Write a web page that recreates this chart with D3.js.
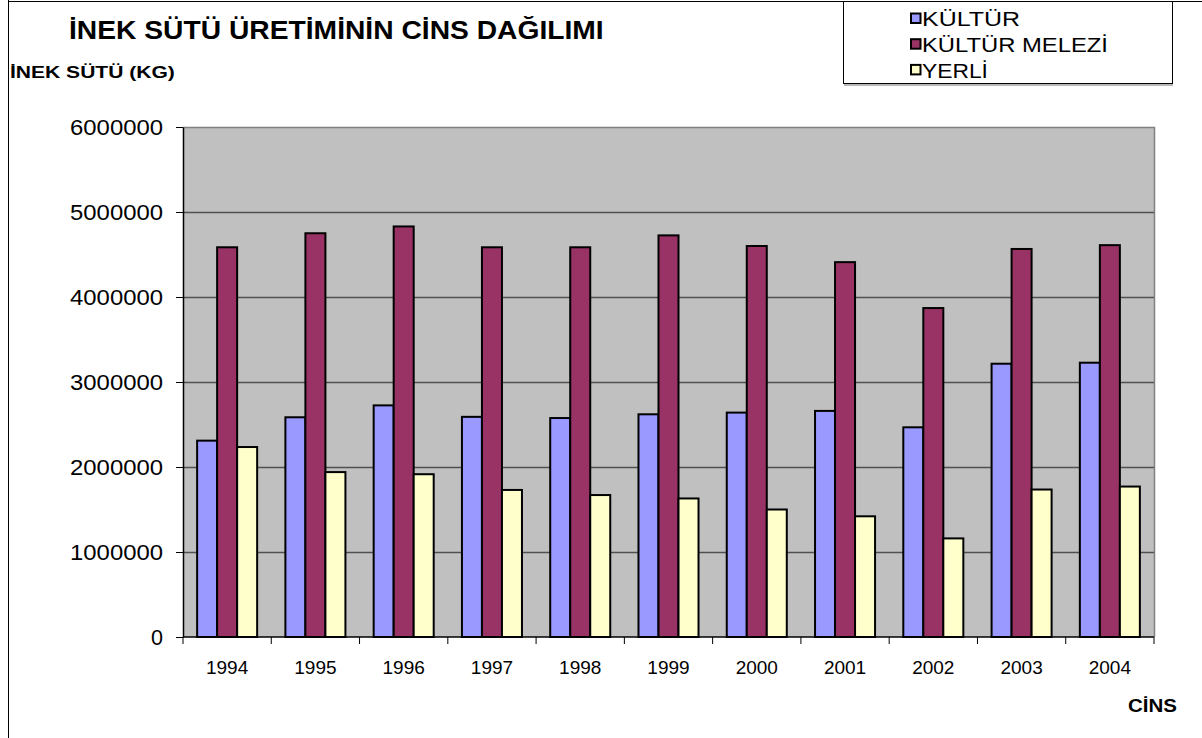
<!DOCTYPE html>
<html>
<head>
<meta charset="utf-8">
<script src="https://cdn.jsdelivr.net/npm/d3@7"></script>
<style>
  body { margin: 0; background: #fff; }
  svg { display: block; font-family: "Liberation Sans", Arial, sans-serif; }
</style>
</head>
<body>
<div id="chart"></div>
<script>
// years on the x axis
var years = ["1994", "1995", "1996", "1997", "1998", "1999", "2000", "2001", "2002", "2003", "2004"];
// milk production (kg) per breed
var kultur = [2310000, 2585000, 2725000, 2590000, 2576000, 2620000, 2640000, 2660000, 2467000, 3215000, 3227000];
var kulturMelezi = [4585000, 4750000, 4830000, 4585000, 4585000, 4725000, 4600000, 4410000, 3870000, 4565000, 4610000];
var yerli = [2235000, 1940000, 1915000, 1730000, 1670000, 1630000, 1500000, 1420000, 1160000, 1735000, 1770000];
var seriesNames = ["KÜLTÜR", "KÜLTÜR MELEZİ", "YERLİ"];
var seriesColors = ["#9999ff", "#993366", "#ffffcc"];
var yTicks = [0, 1000000, 2000000, 3000000, 4000000, 5000000, 6000000];

var seriesValues = [kultur, kulturMelezi, yerli];
var data = years.map(function(y, i) {
   return { year: y, values: seriesValues.map(function(s, k) { return { key: k, value: s[i] }; }) };
});

var W = 1202, H = 738;
var plot = { left: 183, right: 1154, top: 127, bottom: 637 };

// the picture's text is wider than plain Arial, so stretch glyphs horizontally
function stretch(sel, widthFn) {
   sel.each(function(d, i) {
      var t = d3.select(this);
      var w = this.getComputedTextLength();
      var target = typeof widthFn === "function" ? widthFn(d, i) : widthFn;
      var s = target / w;
      var x = +t.attr("x") || 0, y0 = +t.attr("y") || 0;
      t.attr("transform", "translate(" + x + "," + y0 + ") scale(" + s + ",1) translate(" + (-x) + "," + (-y0) + ")");
   });
}

var svg = d3.select("#chart").append("svg")
   .attr("width", W)
   .attr("height", H);

// outer frame lines
svg.append("line").attr("x1", 8.5).attr("x2", 8.5).attr("y1", 0).attr("y2", H)
   .attr("stroke", "#000").attr("stroke-width", 1);
svg.append("line").attr("x1", 8).attr("x2", W).attr("y1", 1.5).attr("y2", 1.5)
   .attr("stroke", "#000").attr("stroke-width", 1);

var x0 = d3.scaleBand()
   .domain(years)
   .range([plot.left, plot.right])
   .paddingInner(0.32)
   .paddingOuter(0.16);
var x1 = d3.scaleBand()
   .domain(d3.range(seriesNames.length))
   .range([0, x0.bandwidth()]);
var y = d3.scaleLinear()
   .domain([0, 6000000])
   .range([plot.bottom, plot.top]);

// plot area background
svg.append("rect")
   .attr("x", plot.left).attr("y", plot.top)
   .attr("width", plot.right - plot.left).attr("height", plot.bottom - plot.top)
   .attr("fill", "#c0c0c0");
svg.append("path")
   .attr("d", "M" + plot.left + "," + (plot.top + 0.5) + "H" + (plot.right + 0.5) + "V" + plot.bottom)
   .attr("fill", "none").attr("stroke", "#808080").attr("stroke-width", 1.5);

// gridlines
svg.append("g").selectAll("line")
   .data(yTicks.filter(function(d) { return d > 0 && d < 6000000; }))
   .enter().append("line")
   .attr("x1", plot.left).attr("x2", plot.right)
   .attr("y1", function(d) { return Math.round(y(d)) + 0.5; })
   .attr("y2", function(d) { return Math.round(y(d)) + 0.5; })
   .attr("stroke", "#505050").attr("stroke-width", 1.3);

// bars
var groups = svg.append("g").selectAll("g")
   .data(data)
   .enter().append("g")
   .attr("transform", function(d) { return "translate(" + x0(d.year) + ",0)"; });

groups.selectAll("rect")
   .data(function(d) { return d.values; })
   .enter().append("rect")
   .attr("x", function(d) { return x1(d.key); })
   .attr("width", x1.bandwidth())
   .attr("y", function(d) { return y(d.value); })
   .attr("height", function(d) { return plot.bottom - y(d.value); })
   .attr("fill", function(d) { return seriesColors[d.key]; })
   .attr("stroke", "#000")
   .attr("stroke-width", 2);

// y axis
var yAxis = svg.append("g")
   .attr("transform", "translate(" + plot.left + ",0)")
   .call(d3.axisLeft(y).tickValues(yTicks).tickFormat(d3.format("d")).tickSize(7).tickPadding(13).tickSizeOuter(0));
yAxis.select(".domain").attr("stroke", "#000").attr("stroke-width", 1.5);
yAxis.selectAll(".tick line").attr("stroke", "#000");
var yLabels = yAxis.selectAll("text")
   .attr("font-family", "Liberation Sans, Arial, sans-serif")
   .attr("font-size", 22)
   .attr("dy", "0.36em")
   .attr("fill", "#000");
stretch(yLabels, function(d) { return String(d).length * 13.5 - 1.5; });

// x axis, ticks sit between the categories
var xAxis = svg.append("g")
   .attr("transform", "translate(0," + plot.bottom + ")");
xAxis.append("line")
   .attr("x1", plot.left).attr("x2", plot.right)
   .attr("stroke", "#000").attr("stroke-width", 1.5);
var step = x0.step();
xAxis.selectAll(".xtick")
   .data(d3.range(years.length + 1))
   .enter().append("line")
   .attr("class", "xtick")
   .attr("x1", function(i) { return plot.left + i * step; })
   .attr("x2", function(i) { return plot.left + i * step; })
   .attr("y1", 0).attr("y2", 7)
   .attr("stroke", "#000");
xAxis.selectAll(".xlab")
   .data(years)
   .enter().append("text")
   .attr("class", "xlab")
   .attr("x", function(d) { return x0(d) + x0.bandwidth() / 2; })
   .attr("y", 37)
   .attr("text-anchor", "middle")
   .attr("font-size", 19)
   .text(function(d) { return d; });

// titles
stretch(svg.append("text")
   .attr("x", 69).attr("y", 39)
   .attr("font-size", 25).attr("font-weight", "bold")
   .text("İNEK SÜTÜ ÜRETİMİNİN CİNS DAĞILIMI"), 535);
stretch(svg.append("text")
   .attr("x", 10).attr("y", 78)
   .attr("font-size", 17).attr("font-weight", "bold")
   .text("İNEK SÜTÜ (KG)"), 165);
stretch(svg.append("text")
   .attr("x", 1128).attr("y", 712)
   .attr("font-size", 18).attr("font-weight", "bold")
   .text("CİNS"), 49);

// legend
var legend = svg.append("g");
legend.append("rect")
   .attr("x", 843.5).attr("y", 1.5).attr("width", 329).attr("height", 82)
   .attr("fill", "#fff").attr("stroke", "#000").attr("stroke-width", 1);
legend.append("line")
   .attr("x1", 844).attr("x2", 1173).attr("y1", 85).attr("y2", 85)
   .attr("stroke", "#a0a0a0").attr("stroke-width", 1.5);
var legendWidths = [98, 186, 66];
var items = legend.selectAll(".item")
   .data(seriesNames)
   .enter().append("g")
   .attr("class", "item")
   .attr("transform", function(d, i) { return "translate(0," + (i * 25.7) + ")"; });
items.append("rect")
   .attr("x", 911).attr("y", 13.5).attr("width", 9.5).attr("height", 9.5)
   .attr("fill", function(d, i) { return seriesColors[i]; })
   .attr("stroke", "#000").attr("stroke-width", 2);
var legendText = items.append("text")
   .attr("x", 922).attr("y", 26.5)
   .attr("font-size", 20)
   .text(function(d) { return d; });
stretch(legendText, function(d, i) { return legendWidths[i]; });
</script>
</body>
</html>
